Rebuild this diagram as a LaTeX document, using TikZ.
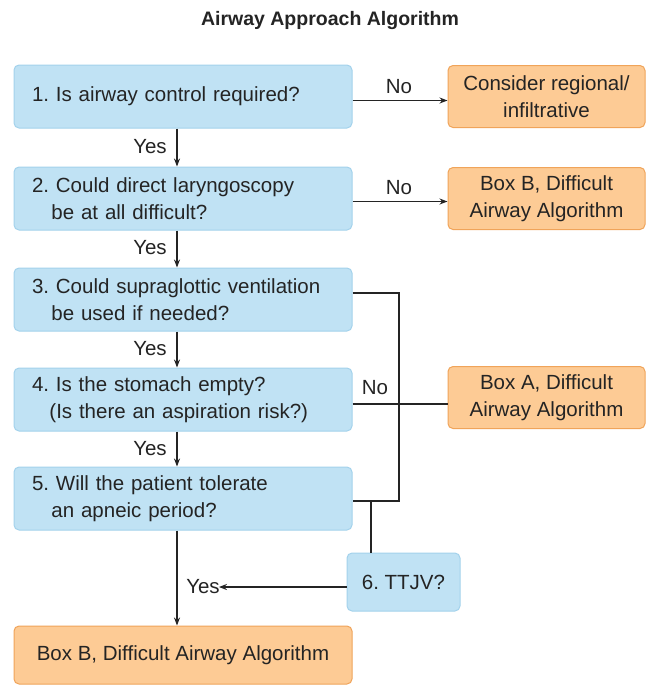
\documentclass[tikz,border=0pt]{standalone}
\usepackage{fontspec}
\setmainfont{Liberation Sans}
\usetikzlibrary{arrows.meta}
\definecolor{bfill}{HTML}{C0E2F4}
\definecolor{bdraw}{HTML}{A3D2EC}
\definecolor{ofill}{HTML}{FDCB95}
\definecolor{odraw}{HTML}{F0A45A}
\definecolor{ink}{HTML}{242424}
\frenchspacing
\tikzset{
  txt/.style={font=\fontsize{20.5}{27}\selectfont, text=ink},
  qbox/.style={txt, draw=bdraw, fill=bfill, rounded corners=5pt, line width=1pt,
    text width=302pt, inner xsep=18pt, inner ysep=0pt, minimum height=63pt, align=left},
  obox/.style={txt, draw=odraw, fill=ofill, rounded corners=5pt, line width=1pt,
    minimum width=197pt, minimum height=62pt, inner sep=0pt, align=center},
  lbl/.style={txt, inner sep=2pt},
  conn/.style={draw=ink, line width=1.6pt},
  arr/.style={conn, -{Stealth[length=8pt,width=6pt]}},
}
\begin{document}
\begin{tikzpicture}[x=1pt,y=-1pt]
\useasboundingbox (0,0) rectangle (652,686);
\fill[white] (0,0) rectangle (652,686);
\node[font=\bfseries\fontsize{19.5}{24}\selectfont, text=ink] (title) at (330,20) {Airway Approach Algorithm};

\coordinate (cx) at (177,0);
\coordinate (rx) at (399,0);
\coordinate (tx) at (371,0);

\node[qbox] (b1) at (183,96.5) {1. Is airway control required?};
\node[qbox] (b2) at (183,198.5) {2. Could direct laryngoscopy\\\hspace*{0.95em}be at all difficult?};
\node[qbox] (b3) at (183,299.5) {3. Could supraglottic ventilation\\\hspace*{0.95em}be used if needed?};
\node[qbox] (b4) at (183,399.5) {4. Is the stomach empty?\\\hspace*{0.85em}(Is there an aspiration risk?)};
\node[qbox] (b5) at (183,498.5) {5. Will the patient tolerate\\\hspace*{0.95em}an apneic period?};

\node[obox] (o1) at (546.5,96.5) {Consider regional/\\infiltrative};
\node[obox] (o2) at (546.5,198.5) {Box B, Difficult\\Airway Algorithm};
\node[obox] (oA) at (546.5,397.5) {Box A, Difficult\\Airway Algorithm};
\node[obox, minimum width=338pt, minimum height=58pt] (bot) at (183,655) {Box B, Difficult Airway Algorithm};
\node[qbox, text width=, align=center, inner sep=0pt, minimum width=113pt, minimum height=58pt] (ttjv) at (403.5,582) {6. TTJV?};

\node[lbl] (y1) at (150,147) {Yes};
\node[lbl] (y2) at (150,248) {Yes};
\node[lbl] (y3) at (150,349) {Yes};
\node[lbl] (y4) at (150,449) {Yes};
\node[lbl] (y6) at (203,587) {Yes};
\node[lbl] (n1) at (399,87) {No};
\node[lbl] (n2) at (399,188) {No};
\node[lbl] (n4) at (375,388) {No};

\draw[arr] (b1.south -| cx) -- (b2.north -| cx);
\draw[arr] (b2.south -| cx) -- (b3.north -| cx);
\draw[arr] (b3.south -| cx) -- (b4.north -| cx);
\draw[arr] (b4.south -| cx) -- (b5.north -| cx);
\draw[arr] (b5.south -| cx) -- (bot.north -| cx);

\draw[arr] ([yshift=-4pt]b1.east) -- ([yshift=-4pt]b1.east -| o1.west);
\draw[arr] ([yshift=-3pt]b2.east) -- ([yshift=-3pt]b2.east -| o2.west);

\draw[conn] ([yshift=6.5pt]b3.east) -- ([yshift=6.5pt]b3.east -| rx) -- ([yshift=-2.5pt]b5.east -| rx) -- ([yshift=-2.5pt]b5.east);
\draw[conn] ([yshift=-4.5pt]b4.east) -- ([yshift=-4.5pt]b4.east -| oA.west);
\draw[conn] ([yshift=-2.5pt]b5.east -| tx) -- (ttjv.north -| tx);
\draw[arr, shorten >=-3pt] ([yshift=-5pt]ttjv.west) -- (y6.east);
\end{tikzpicture}
\end{document}
